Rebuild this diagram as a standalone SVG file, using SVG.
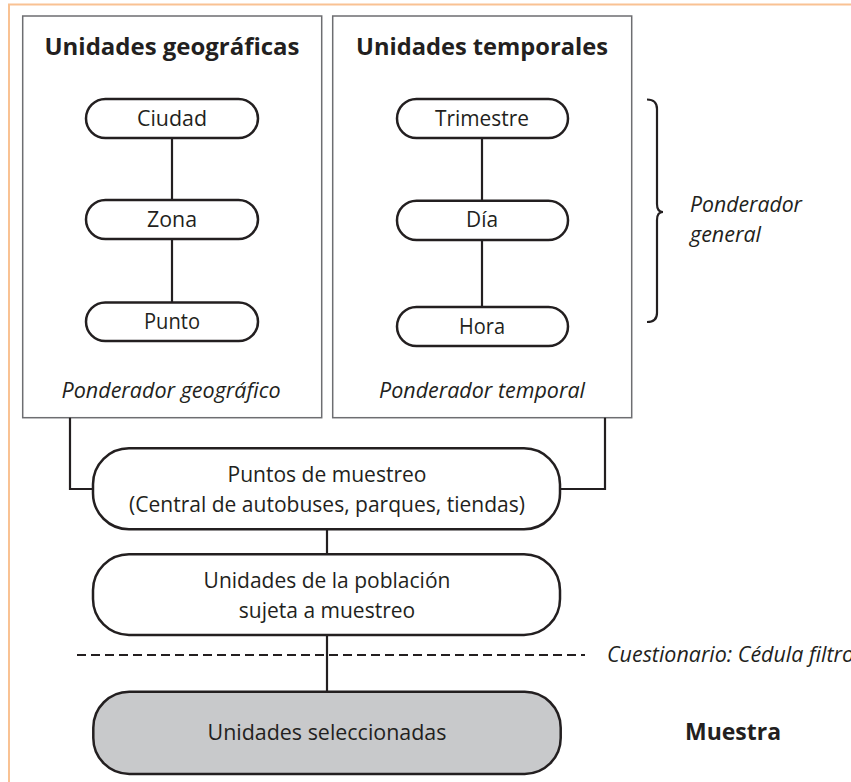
<svg xmlns="http://www.w3.org/2000/svg" width="851" height="782" viewBox="0 0 851 782">
<style>
.frame{fill:none;stroke:#f9c293;stroke-width:2}
.box{fill:#fff;stroke:#6d6e71;stroke-width:1.5}
.pill{fill:#fff;stroke:#231f20;stroke-width:2.5}
.grey{fill:#c8c9cb;stroke:#231f20;stroke-width:2.5}
.ln{fill:none;stroke:#231f20;stroke-width:2.2}
.dash{fill:none;stroke:#231f20;stroke-width:2.2;stroke-dasharray:9,5}
text{font-family:"Open Sans","Noto Sans","Liberation Sans",sans-serif;fill:#231f20;font-size:21px}
.c{text-anchor:middle}
.b{font-weight:bold;font-size:24px}
.i{font-style:italic}
</style>
<rect class="frame" x="9" y="4.5" width="900" height="850"/>
<g id="geo">
<rect class="box" x="22.7" y="16" width="299" height="401.7"/>
<text class="c b" x="172" y="55" textLength="255" lengthAdjust="spacingAndGlyphs">Unidades geográficas</text>
<text class="c i" x="171" y="398" textLength="219" lengthAdjust="spacingAndGlyphs">Ponderador geográfico</text>
</g>
<g id="temp">
<rect class="box" x="332.7" y="16" width="299" height="401.7"/>
<text class="c b" x="482" y="55" textLength="252" lengthAdjust="spacingAndGlyphs">Unidades temporales</text>
<text class="c i" x="482" y="398" textLength="206" lengthAdjust="spacingAndGlyphs">Ponderador temporal</text>
</g>
<g id="connectors">
<line class="ln" x1="172" y1="138" x2="172" y2="200"/>
<line class="ln" x1="172" y1="239" x2="172" y2="302.5"/>
<line class="ln" x1="482" y1="138" x2="482" y2="200.7"/>
<line class="ln" x1="482" y1="240" x2="482" y2="307"/>
<polyline class="ln" points="70,417.7 70,489 93,489"/>
<polyline class="ln" points="605,417.7 605,489 560,489"/>
<line class="ln" x1="327" y1="529" x2="327" y2="554"/>
<line class="ln" x1="327" y1="635" x2="327" y2="692"/>
<line class="dash" x1="77" y1="655" x2="585" y2="655"/>
<path class="ln" d="M647,99.5 Q657,99.5 657,109 L657,204 Q657,212 663,212 Q657,212 657,220 L657,313 Q657,322 647,322"/>
</g>
<g id="ciudad">
<rect class="pill" x="86" y="99" width="172" height="39" rx="19.5"/>
<text class="c" x="172" y="126" textLength="70" lengthAdjust="spacingAndGlyphs">Ciudad</text>
</g>
<g id="zona">
<rect class="pill" x="86" y="200" width="172" height="39" rx="19.5"/>
<text class="c" x="172" y="227" textLength="50" lengthAdjust="spacingAndGlyphs">Zona</text>
</g>
<g id="punto">
<rect class="pill" x="86" y="302.5" width="172" height="38.5" rx="19.25"/>
<text class="c" x="172" y="329" textLength="56" lengthAdjust="spacingAndGlyphs">Punto</text>
</g>
<g id="trimestre">
<rect class="pill" x="397" y="99" width="171" height="39" rx="19.5"/>
<text class="c" x="482" y="126" textLength="94" lengthAdjust="spacingAndGlyphs">Trimestre</text>
</g>
<g id="dia">
<rect class="pill" x="397" y="200.7" width="171" height="39.3" rx="19.6"/>
<text class="c" x="482" y="227" textLength="32" lengthAdjust="spacingAndGlyphs">Día</text>
</g>
<g id="hora">
<rect class="pill" x="397" y="307" width="171" height="39" rx="19.5"/>
<text class="c" x="482" y="334" textLength="46" lengthAdjust="spacingAndGlyphs">Hora</text>
</g>
<g id="ponderador-general">
<text class="i" x="690" y="212" textLength="112" lengthAdjust="spacingAndGlyphs">Ponderador</text>
<text class="i" x="690" y="242" textLength="71" lengthAdjust="spacingAndGlyphs">general</text>
</g>
<g id="puntos">
<rect class="pill" x="93" y="448.3" width="467" height="81" rx="36"/>
<text class="c" x="327" y="482" textLength="199" lengthAdjust="spacingAndGlyphs">Puntos de muestreo</text>
<text class="c" x="327" y="512" textLength="396" lengthAdjust="spacingAndGlyphs">(Central de autobuses, parques, tiendas)</text>
</g>
<g id="poblacion">
<rect class="pill" x="93" y="554.3" width="467" height="80.7" rx="36"/>
<text class="c" x="327" y="588">Unidades de la población</text>
<text class="c" x="327" y="618">sujeta a muestreo</text>
</g>
<g id="cuestionario">
<text class="i" x="607" y="662" textLength="247" lengthAdjust="spacingAndGlyphs">Cuestionario: Cédula filtro</text>
</g>
<g id="seleccionadas">
<rect class="grey" x="93.3" y="691.7" width="467.4" height="82.3" rx="36"/>
<text class="c" x="327" y="740" textLength="239" lengthAdjust="spacingAndGlyphs">Unidades seleccionadas</text>
</g>
<g id="muestra">
<text class="b" x="685" y="740" textLength="96" lengthAdjust="spacingAndGlyphs">Muestra</text>
</g>
</svg>
